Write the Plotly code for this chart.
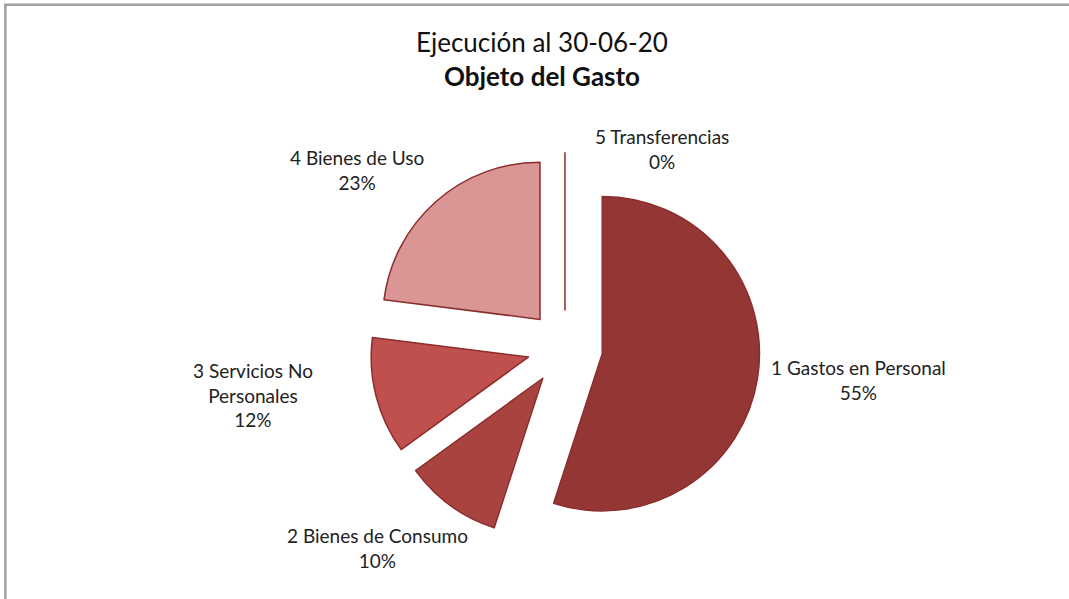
import plotly.graph_objects as go

labels = ["1 Gastos en Personal", "2 Bienes de Consumo", "3 Servicios No Personales",
          "4 Bienes de Uso", "5 Transferencias"]
values = [55, 10, 12, 23, 0]
colors = ["#943634", "#A94340", "#C0504D", "#D99694", "#C0504D"]

FONT = "Lato, Open Sans, sans-serif"

fig = go.Figure(go.Pie(
    labels=labels, values=values, sort=False, direction="clockwise", rotation=0,
    marker=dict(colors=colors, line=dict(color="#8C2D2D", width=1.5)),
    pull=[0.24] * len(values), textinfo="none", hoverinfo="label+percent",
    domain=dict(x=[0.346, 0.711], y=[0.094, 0.745]), showlegend=False,
))

# label centre positions (paper coords) – layout only
label_pos = [(0.803, 0.365), (0.353, 0.085), (0.237, 0.341), (0.334, 0.716), (0.619, 0.752)]
total = sum(values)
for lab, v, (x, y) in zip(labels, values, label_pos):
    txt = lab.replace("No Personales", "No<br>Personales") + "<br>" + f"{round(100 * v / total)}%"
    fig.add_annotation(x=x, y=y, xref="paper", yref="paper", text=txt, showarrow=False,
                       xanchor="center", yanchor="middle",
                       font=dict(family=FONT, size=19, color="#222222"), align="center")

fig.add_annotation(x=0.507, y=0.902, xref="paper", yref="paper",
                   text="Ejecución al 30-06-20<br><b>Objeto del Gasto</b>",
                   xanchor="center", yanchor="middle",
                   showarrow=False, font=dict(family=FONT, size=26, color="#111111"), align="center")

fig.add_shape(type="rect", xref="paper", yref="paper", x0=0.005, y0=-0.1, x1=1.1, y1=0.992,
              line=dict(color="#A0A0A0", width=2.5))

fig.update_layout(width=1069, height=599, margin=dict(l=0, r=0, t=0, b=0),
                  paper_bgcolor="white", plot_bgcolor="white")
fig.write_html("out.html", config={"displayModeBar": False},
               post_script="document.body.style.margin='0';")
